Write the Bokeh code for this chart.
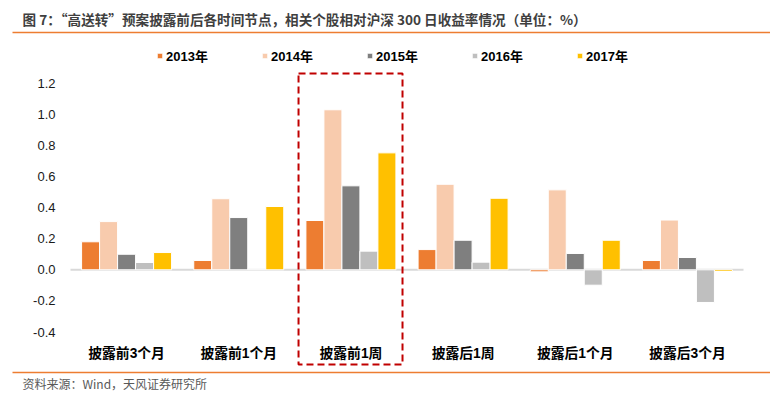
import numpy as np
from bokeh.plotting import figure
from bokeh.models import (ColumnDataSource, Range1d, Label, BoxAnnotation,
                          Legend, LegendItem)
from bokeh.core.properties import value
from bokeh.embed import file_html
from bokeh.resources import INLINE

# ---------------- data ----------------
categories = ["披露前3个月", "披露前1个月", "披露前1周", "披露后1周", "披露后1个月", "披露后3个月"]
years = ["2013年", "2014年", "2015年", "2016年", "2017年"]
v2013 = [0.18, 0.06, 0.317, 0.13, -0.013, 0.06]
v2014 = [0.31, 0.457, 1.029, 0.55, 0.514, 0.32]
v2015 = [0.10, 0.336, 0.54, 0.19, 0.105, 0.079]
v2016 = [0.047, 0.005, 0.12, 0.049, -0.099, -0.21]
v2017 = [0.111, 0.407, 0.752, 0.46, 0.19, -0.011]
series = [v2013, v2014, v2015, v2016, v2017]
colors = ["#ED7D31", "#F8CBAD", "#7F7F7F", "#BFBFBF", "#FFC000"]
y_ticks = [-0.4, -0.2, 0.0, 0.2, 0.4, 0.6, 0.8, 1.0, 1.2]
highlight = "披露前1周"
title_text = "图 7：“高送转”预案披露前后各时间节点，相关个股相对沪深 300 日收益率情况（单位：%）"
source_text = "资料来源：Wind，天风证券研究所"

# ---------------- geometry ----------------
W, H = 770, 393
PX_L, PX_R = 70, 743          # plot area in canvas px
PY_ZERO, PY_PER_UNIT = 269.3, 155.5
XS = len(categories) / (PX_R - PX_L)


def x_at(px):
    return (px - PX_L) * XS


def y_at(py):
    return (PY_ZERO - py) / PY_PER_UNIT


p = figure(width=W, height=H, output_backend="svg", toolbar_location=None,
           x_range=Range1d(x_at(0), x_at(W)), y_range=Range1d(y_at(H), y_at(0)),
           min_border=0, min_border_left=0, min_border_right=0,
           min_border_top=0, min_border_bottom=0,
           x_axis_type=None, y_axis_type=None, outline_line_color=None)
p.grid.visible = False
p.background_fill_color = "white"

FONT = "'Liberation Sans', 'Noto Sans CJK SC', sans-serif"
cjk = value(FONT)

# zero line
idx = np.arange(len(categories))
p.line(x=[0, len(categories)], y=[0, 0], line_color="#D9D9D9", line_width=2)

# bars
bw = 18 * XS
renderers = []
for j, (yr, vals, col) in enumerate(zip(years, series, colors)):
    src = ColumnDataSource(dict(x=idx + 0.5 + (j - 2) * bw, top=vals))
    r = p.vbar(x="x", top="top", bottom=0, width=bw, source=src,
               fill_color=col, line_color="white", line_width=1)
    renderers.append(r)

# y tick labels
tsrc = ColumnDataSource(dict(y=y_ticks, t=["%.1f" % t for t in y_ticks]))
p.text(x=x_at(55), y="y", text="t", source=tsrc, text_align="right",
       text_baseline="middle", text_font=cjk, text_font_size="13px",
       text_color="#1a1a1a")

# category labels
csrc = ColumnDataSource(dict(x=idx + 0.5, t=categories))
p.text(x="x", y=y_at(353), text="t", source=csrc, text_align="center",
       text_baseline="middle", text_font=cjk, text_font_size="13.8px",
       text_font_style="bold", text_color="#000000")

# highlight box
hi = categories.index(highlight)
p.add_layout(BoxAnnotation(left=hi + 0.033, right=hi + 0.96,
                           top=y_at(73), bottom=y_at(364),
                           fill_alpha=0, line_color="#C00000", line_alpha=1,
                           line_width=2, line_dash="7 4"))

# legend
legend = Legend(items=[LegendItem(label=y, renderers=[r]) for y, r in zip(years, renderers)],
                orientation="horizontal", location=(156, H - 65),
                glyph_width=7, glyph_height=7, label_standoff=3,
                label_width=95, spacing=0, padding=0, margin=0,
                label_text_font=FONT, label_text_font_size="13px",
                label_text_font_style="bold", label_text_color="#000000",
                label_height=14, border_line_color=None,
                background_fill_alpha=0)
p.add_layout(legend, "center")

# title and rules
p.add_layout(Label(x=x_at(22), y=y_at(18), text=title_text, text_baseline="middle",
                   text_font="Noto Sans CJK SC", text_font_size="13.6px",
                   text_font_style="bold", text_color="#3F3F3F"))
p.segment(x0=x_at(12), x1=x_at(W), y0=y_at(32), y1=y_at(32),
          line_color="#ED7D31", line_width=1.5)
p.segment(x0=x_at(12), x1=x_at(W), y0=y_at(372), y1=y_at(372),
          line_color="#ED7D31", line_width=1.5)
p.add_layout(Label(x=x_at(22), y=y_at(383), text=source_text, text_baseline="middle",
                   text_font="Noto Sans CJK SC", text_font_size="12px",
                   text_color="#595959"))

open("out.html", "w").write(file_html(p, INLINE))
